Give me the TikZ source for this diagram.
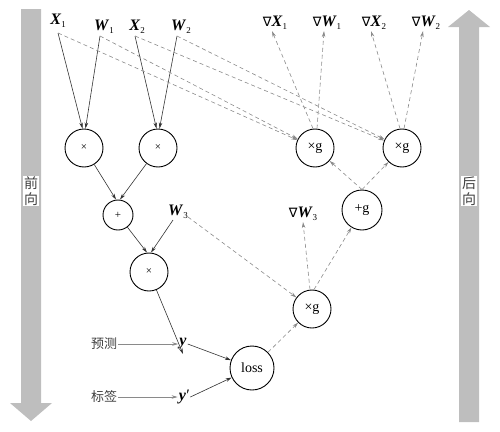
\documentclass[tikz,border=0pt]{standalone}
\usepackage{fontspec}
\setmainfont{Liberation Serif}
\newfontfamily\cjk{Noto Sans CJK SC}
\newfontfamily\djv{DejaVu Sans}
\usetikzlibrary{arrows.meta}
\newcommand\vlab[2]{\textbf{\textit{#1}}\raisebox{-0.45ex}{\fontsize{9}{9}\selectfont #2}}
\newcommand\nab{{\djv\fontsize{13}{13}\selectfont ∇}}
\definecolor{barcol}{HTML}{BEBEBE}
\definecolor{solidcol}{HTML}{333333}
\definecolor{dashcol}{HTML}{8A8A8A}
\tikzset{
  op/.style={circle,draw=black,line width=0.9pt,minimum size=38pt,inner sep=0pt,font=\fontsize{14}{14}\selectfont},
  lab/.style={inner sep=1pt,font=\fontsize{16}{16}\selectfont},
  cn/.style={inner sep=1pt,font=\cjk\fontsize{13}{13}\selectfont,text=black!75},
  fw/.style={draw=solidcol,line width=0.6pt,-{Stealth[length=6pt,width=3.5pt]}},
  bw/.style={draw=dashcol,line width=0.6pt,dash pattern=on 4pt off 3pt,-{Stealth[length=6pt,width=3.5pt]}},
  gw/.style={draw=dashcol,line width=0.7pt,-{Stealth[length=6pt,width=3.5pt]}},
  side/.style={fill=white,inner sep=1pt,align=center,font=\cjk\fontsize{14}{16}\selectfont,text=black!75}
}
\begin{document}
\begin{tikzpicture}[x=1pt,y=-1pt]
\useasboundingbox (0,0) rectangle (500,431);
% big arrows
\fill[barcol] (21,9) -- (41,9) -- (41,403) -- (52,403) -- (31,421) -- (10,403) -- (21,403) -- cycle;
\fill[barcol] (459,422) -- (479,422) -- (479,27) -- (490,27) -- (469,10) -- (448,27) -- (459,27) -- cycle;
\node[side] (fwd) at (31,191) {前\\向};
\node[side] (bwd) at (469,191) {后\\向};
% forward labels
\node[lab] (X1) at (58,21) {\vlab{X}{1}};
\node[lab] (W1) at (104,27) {\vlab{W}{1}};
\node[lab] (X2) at (137,27) {\vlab{X}{2}};
\node[lab] (W2) at (181,27) {\vlab{W}{2}};
\node[lab] (W3) at (178,212) {\vlab{W}{3}};
\coordinate (X1s) at (58,33);
\coordinate (W1s) at (100,36);
\coordinate (X2s) at (135,36);
\coordinate (W2s) at (177,36);
\coordinate (W3s) at (173,220);
\coordinate (W3r) at (188,217);
% forward ops
\node[op] (m1) at (84,148) {\fontsize{11}{11}\selectfont ×};
\node[op] (m2) at (158,148) {\fontsize{11}{11}\selectfont ×};
\node[op,minimum size=30pt] (add) at (118,215) {\fontsize{11}{11}\selectfont +};
\node[op] (m3) at (149,272) {\fontsize{11}{11}\selectfont ×};
\node[lab] (y) at (183,344) {\textbf{\textit{y}}};
\node[lab] (yp) at (184,397) {\textbf{\textit{y}}\kern-0.5pt\textit{\char"2032}};
\node[cn] (pred) at (104,344) {预测};
\node[cn] (label) at (104,397) {标签};
\node[op,minimum size=44pt] (loss) at (252,368) {loss};
% backward ops
\node[op] (gL) at (315,148) {×g};
\node[op] (gR) at (402,148) {×g};
\node[op,minimum size=40pt] (ga) at (362,210) {+g};
\node[op] (gB) at (312,309) {×g};
% gradient labels
\node[lab] (dX1) at (275,23) {\nab\vlab{X}{1}};
\node[lab] (dW1) at (327,23) {\nab\vlab{W}{1}};
\node[lab] (dX2) at (374,23) {\nab\vlab{X}{2}};
\node[lab] (dW2) at (426,23) {\nab\vlab{W}{2}};
\node[lab] (dW3) at (303,214) {\nab\vlab{W}{3}};
% forward arrows
\draw[fw] (X1s) -- ([xshift=-1.5pt]m1.north);
\draw[fw] (W1s) -- ([xshift=1.5pt]m1.north);
\draw[fw] (X2s) -- ([xshift=-1.5pt]m2.north);
\draw[fw] (W2s) -- ([xshift=1.5pt]m2.north);
\draw[fw] (m1) -- ([xshift=-2pt]add.north);
\draw[fw] (m2) -- ([xshift=2pt]add.north);
\draw[fw] (add) -- ([xshift=-2pt]m3.north);
\draw[fw] (W3s) -- ([xshift=2pt]m3.north);
\draw[fw] (m3) -- ([yshift=-10pt]y.center);
\draw[fw] (y.east) -- (loss);
\draw[fw] (yp.east) -- (loss);
\draw[gw] (pred.east) -- (y.west);
\draw[gw] (label.east) -- (yp.west);
% backward dashed arrows
\draw[bw] (X1s) -- (gL);
\draw[bw] (W1s) -- (gL);
\draw[bw] (X2s) -- (gR);
\draw[bw] (W2s) -- (gR);
\draw[bw] (W3r) -- (gB);
\draw[bw] (loss) -- (gB);
\draw[bw] ([xshift=2pt]gB.north) -- (ga);
\draw[bw] ([xshift=-2pt]gB.north) -- (dW3.south);
\draw[bw] (ga.north) -- (gL);
\draw[bw] (ga.north) -- (gR);
\draw[bw] ([xshift=-2pt]gL.north) -- ([xshift=-3pt]dX1.south);
\draw[bw] ([xshift=2pt]gL.north) -- ([xshift=-3pt]dW1.south);
\draw[bw] ([xshift=-2pt]gR.north) -- ([xshift=-3pt]dX2.south);
\draw[bw] ([xshift=2pt]gR.north) -- ([xshift=-3pt]dW2.south);
\end{tikzpicture}
\end{document}
